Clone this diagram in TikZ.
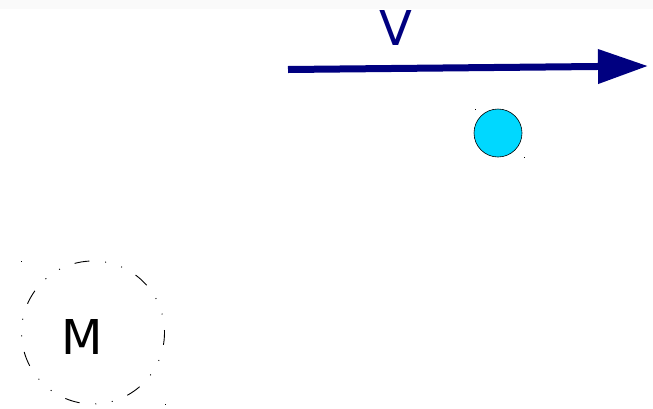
\documentclass[tikz,border=0pt]{standalone}
\usepackage{fontspec}
\setmainfont{DejaVu Sans}
\usetikzlibrary{arrows.meta}
\definecolor{navy}{HTML}{000080}
\definecolor{ballcyan}{HTML}{00D8FF}
\begin{document}
\begin{tikzpicture}[x=1pt,y=-1pt,
  bigtext/.style={inner sep=0pt, font=\fontsize{48}{58}\selectfont},
  speckle/.style={fill=black},
  vel/.style={navy, line width=7pt, -{Triangle[length=50pt,width=33pt]}},
  mass/.style={circle, draw=black, line width=0.9pt, minimum size=143pt, inner sep=0pt,
    dash pattern=on 15pt off 15.7pt on 1pt off 15.7pt on 1pt off 15.8pt, dash phase=12.5pt}]
\useasboundingbox (0,0) rectangle (653,408);
\fill[black!2] (0,0) rectangle (653,9);
% velocity arrow
\coordinate (vstart) at (288,69.5);
\coordinate (vend) at (648,66);
\draw[vel] (vstart) -- (vend);
\node[bigtext, text=navy] (vlabel) at (396,27.5) {V};
% ball
\node[circle, draw=black, line width=0.6pt, fill=ballcyan, minimum size=48pt, inner sep=0pt] (ball) at (498,133) {};
\fill[speckle] (475,109) rectangle (476,110);
\fill[speckle] (523.5,156.5) rectangle (524.5,157.5);
% mass
\node[mass] (mcirc) at (93,332.5) {};
\node[bigtext] (mlabel) at (82,337) {M};
\fill[speckle] (21,261) rectangle (22,262);
\fill[speckle] (164.5,403.5) rectangle (165.5,404.5);
\end{tikzpicture}
\end{document}
